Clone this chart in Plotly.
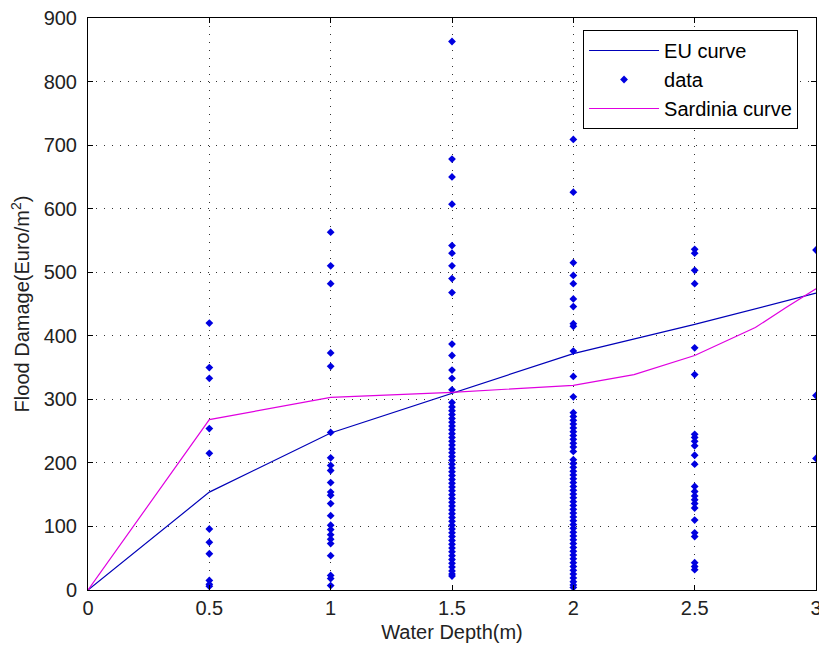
import plotly.graph_objects as go

# Curves
eu_x = [0, 0.5, 1, 1.5, 2, 2.5, 3]
eu_y = [0, 154, 247, 310, 372, 418, 467]

sard_x = [0, 0.5, 1, 1.5, 2, 2.25, 2.5, 2.75, 2.875, 3]
sard_y = [0, 268, 303, 311, 322, 339, 369, 413, 444, 474]

# Observed data by water depth
depths = [0.5, 1, 1.5, 2, 2.5, 3]
d05 = [420, 350, 333, 254, 215, 96, 75, 57, 15, 9, 6]
d10 = [563, 510, 482, 373, 352, 248, 208, 196, 188, 169, 154, 149, 136, 117,
       102, 95, 87, 80, 73, 54, 23, 18, 7]
d15 = [863, 678, 650, 607, 542, 530, 510, 490, 468, 387, 369, 346, 333, 315,
       295, 288, 282, 276, 270, 264, 258, 252, 246, 240, 234, 228, 222, 216,
       210, 204, 198, 192, 186, 180, 174, 168, 162, 156, 150, 144, 138, 132,
       126, 120, 114, 108, 102, 96, 90, 84, 78, 72, 66, 60, 54, 48, 42, 36,
       30, 25, 22]
d20 = [709, 626, 515, 495, 482, 458, 446, 419, 415, 376, 336, 304, 279, 273,
       267, 261, 255, 249, 243, 237, 231, 225, 218, 205, 199, 193, 187, 181,
       175, 169, 163, 157, 151, 145, 139, 133, 127, 121, 115, 109, 103, 97,
       91, 85, 79, 73, 67, 61, 55, 49, 43, 37, 31, 25, 19, 13, 8, 4]
d25 = [536, 530, 503, 482, 381, 339, 245, 240, 234, 227, 212, 198, 163, 155,
       148, 142, 136, 129, 110, 90, 84, 43, 37, 32]
d30 = [535, 306, 207]
groups = [d05, d10, d15, d20, d25, d30]

data_x, data_y = [], []
for d, vals in zip(depths, groups):
    data_x += [d] * len(vals)
    data_y += vals

x_ticks = [0, 0.5, 1, 1.5, 2, 2.5, 3]
x_tick_labels = ["0", "0.5", "1", "1.5", "2", "2.5", "3"]
y_ticks = [0, 100, 200, 300, 400, 500, 600, 700, 800, 900]

FONT = "Liberation Sans, Arial"
FS = 20

fig = go.Figure()
fig.add_trace(go.Scatter(x=eu_x, y=eu_y, mode="lines", name="EU curve",
                         line=dict(color="#0000b8", width=1.2)))
fig.add_trace(go.Scatter(x=data_x, y=data_y, mode="markers", name="data",
                         marker=dict(symbol="diamond", size=6, color="#0000e0",
                                     line=dict(width=0))))
fig.add_trace(go.Scatter(x=sard_x, y=sard_y, mode="lines", name="Sardinia curve",
                         line=dict(color="#e000e0", width=1.2)))

axis_common = dict(
    showline=True, linecolor="black", linewidth=1, mirror="ticks",
    ticks="inside", ticklen=5, tickcolor="black",
    showgrid=True, gridcolor="#333", griddash="1px,7px", gridwidth=1.3,
    zeroline=False, automargin=False, ticklabeloverflow="allow",
    tickfont=dict(family=FONT, size=FS, color="#222"),
)

fig.update_xaxes(range=[0, 3], tickvals=x_ticks, ticktext=x_tick_labels,
                 title=dict(text="Water Depth(m)",
                            font=dict(family=FONT, size=FS, color="#222"),
                            standoff=6),
                 **axis_common)
fig.update_yaxes(range=[0, 900], tickvals=y_ticks, ticklabelstandoff=6,
                 title=dict(text="Flood Damage(Euro/m<sup>2</sup>)",
                            font=dict(family=FONT, size=FS, color="#222"),
                            standoff=8),
                 **axis_common)

fig.update_layout(
    width=819, height=655,
    margin=dict(l=88, r=3, t=18, b=65),
    paper_bgcolor="white", plot_bgcolor="white",
    showlegend=True,
    legend=dict(x=0.68, y=0.979, xanchor="left", yanchor="top",
                bgcolor="white", bordercolor="black", borderwidth=1,
                font=dict(family=FONT, size=FS, color="black"),
                itemwidth=70, tracegroupgap=0),
)

fig.write_html(
    "out.html",
    config={"displayModeBar": False},
    post_script="document.body.style.margin='0';document.body.style.overflow='hidden';",
)
